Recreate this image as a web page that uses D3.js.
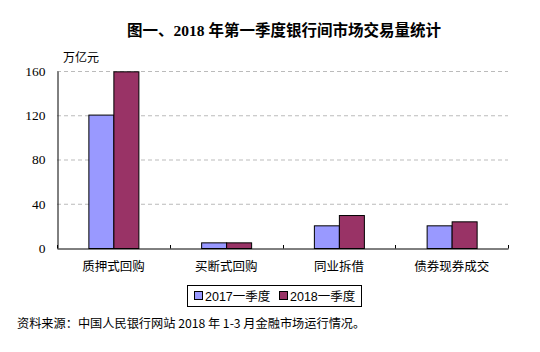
<!DOCTYPE html>
<html><head><meta charset="utf-8">
<script src="https://cdn.jsdelivr.net/npm/d3@7"></script>
<style>body{margin:0;background:#fff}svg{display:block}</style>
</head><body><div id="chart"></div>
<script>
const categories = ["质押式回购", "买断式回购", "同业拆借", "债券现券成交"];
const seriesNames = ["2017一季度", "2018一季度"];
const values2017 = [120.6, 5.1, 20.5, 20.5];
const values2018 = [159.7, 5.1, 29.8, 24.1];
const yTicks = [0, 40, 80, 120, 160];
const colors = ["#9999FF", "#993366"];

const W = 540, H = 352;
const svg = d3.select("#chart").append("svg").attr("width", W).attr("height", H);
const m = {left: 57, right: 32, top: 71, bottom: 104};
const x0 = d3.scaleBand().domain(categories).range([m.left, W - m.right]);
const x1 = d3.scaleBand().domain(seriesNames).range([0, 50]);
const y = d3.scaleLinear().domain([0, 160]).range([H - m.bottom, m.top]);

svg.append("text").attr("x", 284).attr("y", 36).attr("text-anchor", "middle")
  .attr("font-family", "'Liberation Serif','Noto Sans CJK SC'").attr("font-weight", "bold")
  .attr("font-size", 15.5).attr("fill", "#000").text("图一、2018 年第一季度银行间市场交易量统计");

// gridlines
svg.append("g").selectAll("line").data(yTicks.filter(d => d > 0)).join("line")
  .attr("x1", m.left).attr("x2", W - m.right)
  .attr("y1", d => y(d) + 0.5).attr("y2", d => y(d) + 0.5)
  .attr("stroke", "#bbb").attr("stroke-dasharray", "4,3");

// y axis labels
const yAxis = d3.axisLeft(y).tickValues(yTicks).tickSize(0).tickPadding(12);
const ga = svg.append("g").attr("transform", `translate(${m.left + 0.5},0)`).call(yAxis);
ga.select(".domain").attr("stroke", "#000");
ga.selectAll("text").attr("font-family", "'Liberation Serif'").attr("font-size", 13.5).attr("fill", "#000");

svg.append("text").attr("x", 63).attr("y", 62).attr("font-family", "'Noto Sans CJK SC'")
  .attr("font-size", 12).attr("fill", "#000").text("万亿元");

// bars
const data = categories.map((c, i) => ({c, v: [values2017[i], values2018[i]]}));
const g = svg.append("g");
data.forEach(d => {
  const cx = x0(d.c) + x0.bandwidth() / 2 - 25;
  g.selectAll(null).data(d.v).join("rect")
    .attr("x", (v, j) => cx + x1(seriesNames[j]) + 0.5)
    .attr("y", v => y(v) + 0.5)
    .attr("width", x1.bandwidth())
    .attr("height", v => y(0) - y(v))
    .attr("fill", (v, j) => colors[j]).attr("stroke", "#000").attr("stroke-width", 1);
});

// x axis
const xAxis = d3.axisBottom(x0).tickSize(0).tickPadding(14);
const gx = svg.append("g").attr("transform", `translate(0,${y(0) + 0.5})`).call(xAxis);
gx.select(".domain").attr("stroke", "#000");
gx.selectAll("text").attr("font-family", "'Noto Sans CJK SC'").attr("font-size", 12.5).attr("fill", "#000");
const bounds = categories.map(c => x0(c) + x0.bandwidth()).concat([x0(categories[0])]);
svg.append("g").selectAll("line").data(bounds).join("line")
  .attr("x1", d => Math.round(d) + 0.5).attr("x2", d => Math.round(d) + 0.5)
  .attr("y1", y(0) - 3).attr("y2", y(0) + 0.5).attr("stroke", "#000");

// legend
const lg = svg.append("g");
lg.append("rect").attr("x", 187.5).attr("y", 285.5).attr("width", 174).attr("height", 21)
  .attr("fill", "#fff").attr("stroke", "#000");
const lx = [194, 279];
seriesNames.forEach((s, j) => {
  lg.append("rect").attr("x", lx[j] + 0.5).attr("y", 291.5).attr("width", 8).attr("height", 8)
    .attr("fill", colors[j]).attr("stroke", "#000");
  lg.append("text").attr("x", lx[j] + 11).attr("y", 301).attr("font-family", "'Liberation Sans','Noto Sans CJK SC'")
    .attr("font-size", 12.5).attr("fill", "#000").text(s);
});

svg.append("text").attr("x", 17).attr("y", 328).attr("font-family", "'Noto Sans CJK SC'")
  .attr("font-size", 12.2).attr("fill", "#000")
  .text("资料来源：中国人民银行网站 2018 年 1-3 月金融市场运行情况。");
</script></body></html>
